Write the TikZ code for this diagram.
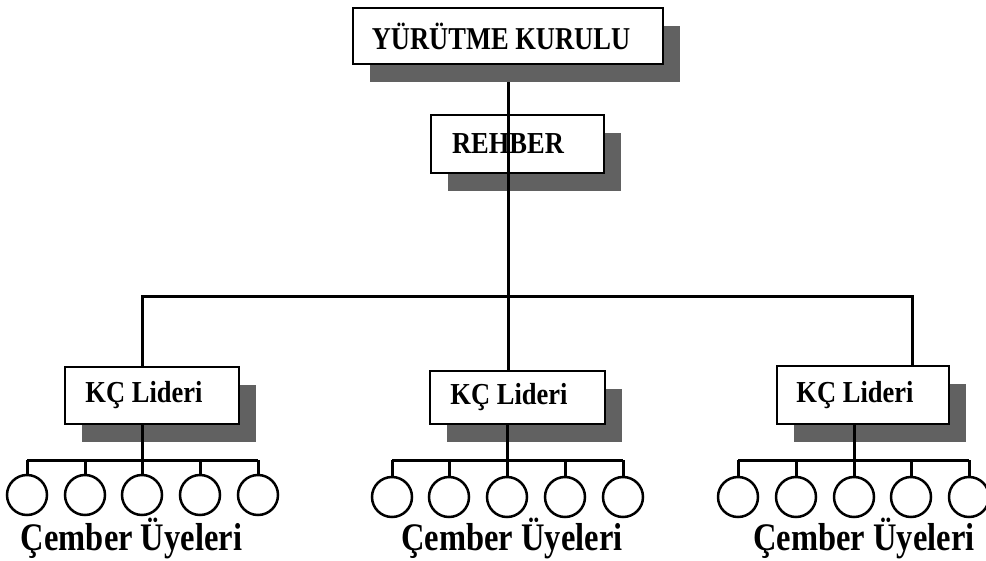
\documentclass[tikz,border=0pt]{standalone}
\usepackage{fontspec}
\setmainfont{Liberation Serif}
\usetikzlibrary{shadows}
\newcommand{\tallbox}[2]{\scalebox{1}[#1]{#2}}
\begin{document}
\begin{tikzpicture}[x=1pt,y=-1pt,
 box/.style={draw, line width=2.5pt, fill=white, inner sep=0pt,
   font=\fontsize{26.5}{30}\selectfont\bfseries,
   drop shadow={shadow xshift=17pt, shadow yshift=-18pt, fill=black!62, opacity=1}},
 conn/.style={line width=3pt},
 mem/.style={draw, circle, line width=2.5pt, minimum size=40pt, inner sep=0pt},
 lbl/.style={font=\fontsize{32.5}{36}\selectfont\bfseries, anchor=base}]
\useasboundingbox (0,0) rectangle (986,561);

% coordinates for connector routing
\coordinate (cx) at (508,0);
\coordinate (h1) at (142,297);
\coordinate (h3) at (912,297);
\coordinate (b1) at (142,460);
\coordinate (b2) at (507,460);
\coordinate (b3) at (854,460);

% REHBER box
\node[box, minimum width=173pt, minimum height=58pt] (reh) at (517.5,144) {\kern-19pt \tallbox{1.15}{REHBER}};

% KÇ Lideri boxes
\node[box, minimum width=174pt, minimum height=57pt] (k1) at (152,395.5) {\kern-16pt \tallbox{1.15}{KÇ Lideri}};
\node[box, minimum width=175pt, minimum height=53pt] (k2) at (517.5,397.5) {\kern-17pt \tallbox{1.15}{KÇ Lideri}};
\node[box, minimum width=172pt, minimum height=58pt] (k3) at (863,395) {\kern-16pt \tallbox{1.15}{KÇ Lideri}};

% main vertical line (drawn over REHBER, under top box shadow)
\coordinate (topy) at (508,64);
\draw[conn] (topy) -- (k2.north -| cx);

% top box
\node[box, minimum width=310pt, minimum height=56pt] (yk) at (508,36) {\kern-14pt \tallbox{1.2}{YÜRÜTME KURULU}};

% horizontal branch to the three leaders
\draw[conn] (k1.north -| h1) -- (h1) -- (h3) -- (k3.north -| h3);

% circles (members)
\foreach \x [count=\i] in {27,85,142,200,258}
  \node[mem] (a\i) at (\x,495) {};
\foreach \x [count=\i] in {392,449,507,565,623}
  \node[mem] (m\i) at (\x,497) {};
\foreach \x [count=\i] in {738,796,854,911,969}
  \node[mem] (r\i) at (\x,497) {};

% leader to members
\draw[conn] (k1.south -| b1) -- (b1);
\draw[conn] (a1.north |- b1) -- (a5.north |- b1);
\foreach \i in {1,...,5} \draw[conn] (a\i.north |- b1) -- (a\i.north);

\draw[conn] (k2.south -| b2) -- (b2);
\draw[conn] (m1.north |- b2) -- (m5.north |- b2);
\foreach \i in {1,...,5} \draw[conn] (m\i.north |- b2) -- (m\i.north);

\draw[conn] (k3.south -| b3) -- (b3);
\draw[conn] (r1.north |- b3) -- (r5.north |- b3);
\foreach \i in {1,...,5} \draw[conn] (r\i.north |- b3) -- (r\i.north);

% labels
\node[lbl] (la) at (131.5,550) {\tallbox{1.2}{Çember Üyeleri}};
\node[lbl] (lm) at (512,550) {\tallbox{1.2}{Çember Üyeleri}};
\node[lbl] (lr) at (864,550) {\tallbox{1.2}{Çember Üyeleri}};
\end{tikzpicture}
\end{document}
